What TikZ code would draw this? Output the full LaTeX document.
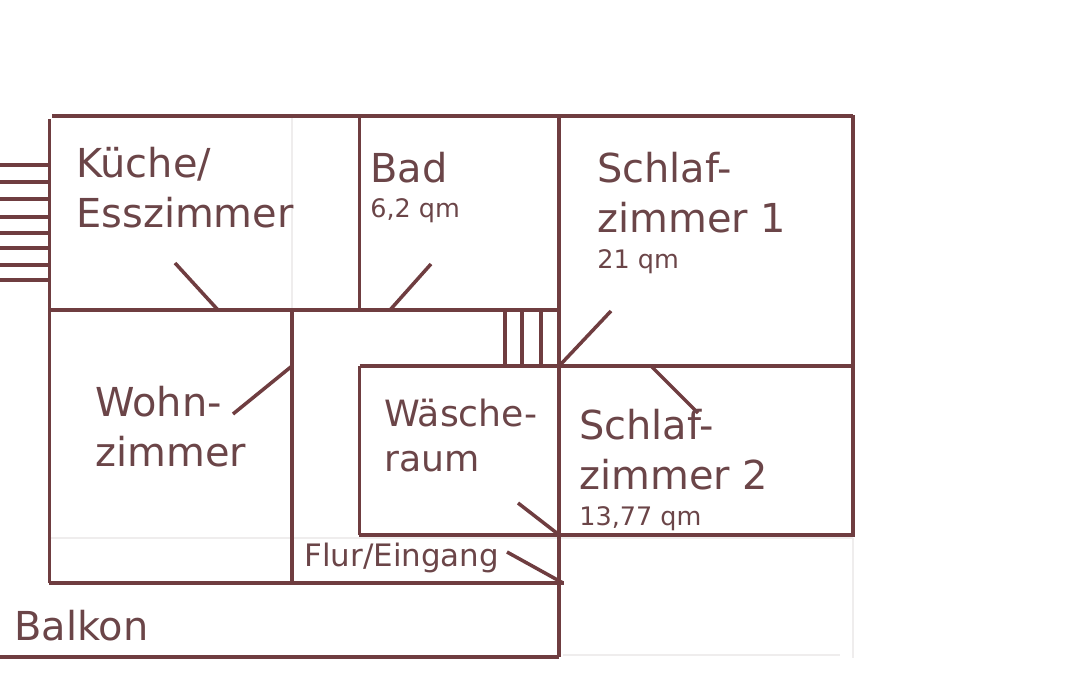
\documentclass[tikz,border=0pt]{standalone}
\usepackage{fontspec}
\setmainfont{DejaVu Sans}
\usepackage{xcolor}
\definecolor{wallbrown}{HTML}{6F3D40}
\definecolor{textbrown}{HTML}{6B4548}
\definecolor{fadedline}{HTML}{EFEDED}
\tikzset{
	wall/.style = {draw=wallbrown, line width=2pt},
	roomtext/.style = {text=textbrown, inner sep=0pt, anchor=north west, align=left,
		font=\fontsize{22.7}{28.3}\selectfont},
	smallroomtext/.style = {roomtext, font=\fontsize{20.6}{25.5}\selectfont},
	areatext/.style = {text=textbrown, inner sep=0pt, anchor=base west,
		font=\fontsize{14.5}{17}\selectfont},
	flurtext/.style = {text=textbrown, inner sep=0pt, anchor=base west,
		font=\fontsize{17.6}{19}\selectfont}
}
\begin{document}
\begin{tikzpicture}[x=0.02cm, y=-0.02cm]
		\useasboundingbox (0,0) rectangle (1080,700);

		% faded lines
		\draw[fadedline, line width=0.8pt] (50,538) -- (853,538);
		\draw[fadedline, line width=0.8pt] (563,655) -- (840,655);
		\draw[fadedline, line width=0.8pt] (853,538) -- (853,658);
		\draw[fadedline, line width=0.8pt] (292,116) -- (292,310);

		% outer walls
		\draw[wall] (52,116) -- (853,116);
		\draw[wall] (49.5,119) -- (49.5,583);
		\draw[wall, line width=2.6pt] (853,115) -- (853,537);
		\draw[wall] (0,657) -- (559,657);

		% inner walls
		\draw[wall] (49,310) -- (559,310);
		\draw[wall] (359.5,116) -- (359.5,310);
		\draw[wall] (559,116) -- (559,657);
		\draw[wall] (359.5,366) -- (853,366) ;
		\draw[wall] (359.5,366) -- (359.5,535);
		\draw[wall] (359,535) -- (853,535);
		\draw[wall] (292,310) -- (292,583);
		\draw[wall] (49,583) -- (564,583);

		% stairs
		\foreach \y in {165,182,199,217,233,248,265,280}
			\draw[wall] (0,\y) -- (48,\y);
		\foreach \x in {505,522,541}
			\draw[wall] (\x,310) -- (\x,366);

		% doors
		\draw[wall] (175,263) -- (218,310);
		\draw[wall] (431,264) -- (390,310);
		\draw[wall] (611,311) -- (561,364);
		\draw[wall] (651,366) -- (698,413);
		\draw[wall] (233,414) -- (292,366);
		\draw[wall] (518,503) -- (558,534);
		\draw[wall] (507,552) -- (563,583);

		\node[roomtext] (kueche) at (76,147) {Küche/\\Esszimmer};
		\node[roomtext, anchor=base west] (bad) at (370,182) {Bad};
		\node[areatext] (badqm) at (370,217) {6,2 qm};
		\node[roomtext] (schlaf1) at (597,152) {Schlaf-\\zimmer 1};
		\node[areatext] (schlaf1qm) at (597,268) {21 qm};
		\node[roomtext] (wohn) at (95,386) {Wohn-\\zimmer};
		\node[smallroomtext] (waesche) at (384,399) {Wäsche-\\raum};
		\node[roomtext] (schlaf2) at (579,409) {Schlaf-\\zimmer 2};
		\node[areatext] (schlaf2qm) at (579,525) {13,77 qm};
		\node[flurtext] (flur) at (304,566) {Flur/Eingang};
		\node[roomtext, anchor=base west] (balkon) at (14,640) {Balkon};
	\end{tikzpicture}
\end{document}
